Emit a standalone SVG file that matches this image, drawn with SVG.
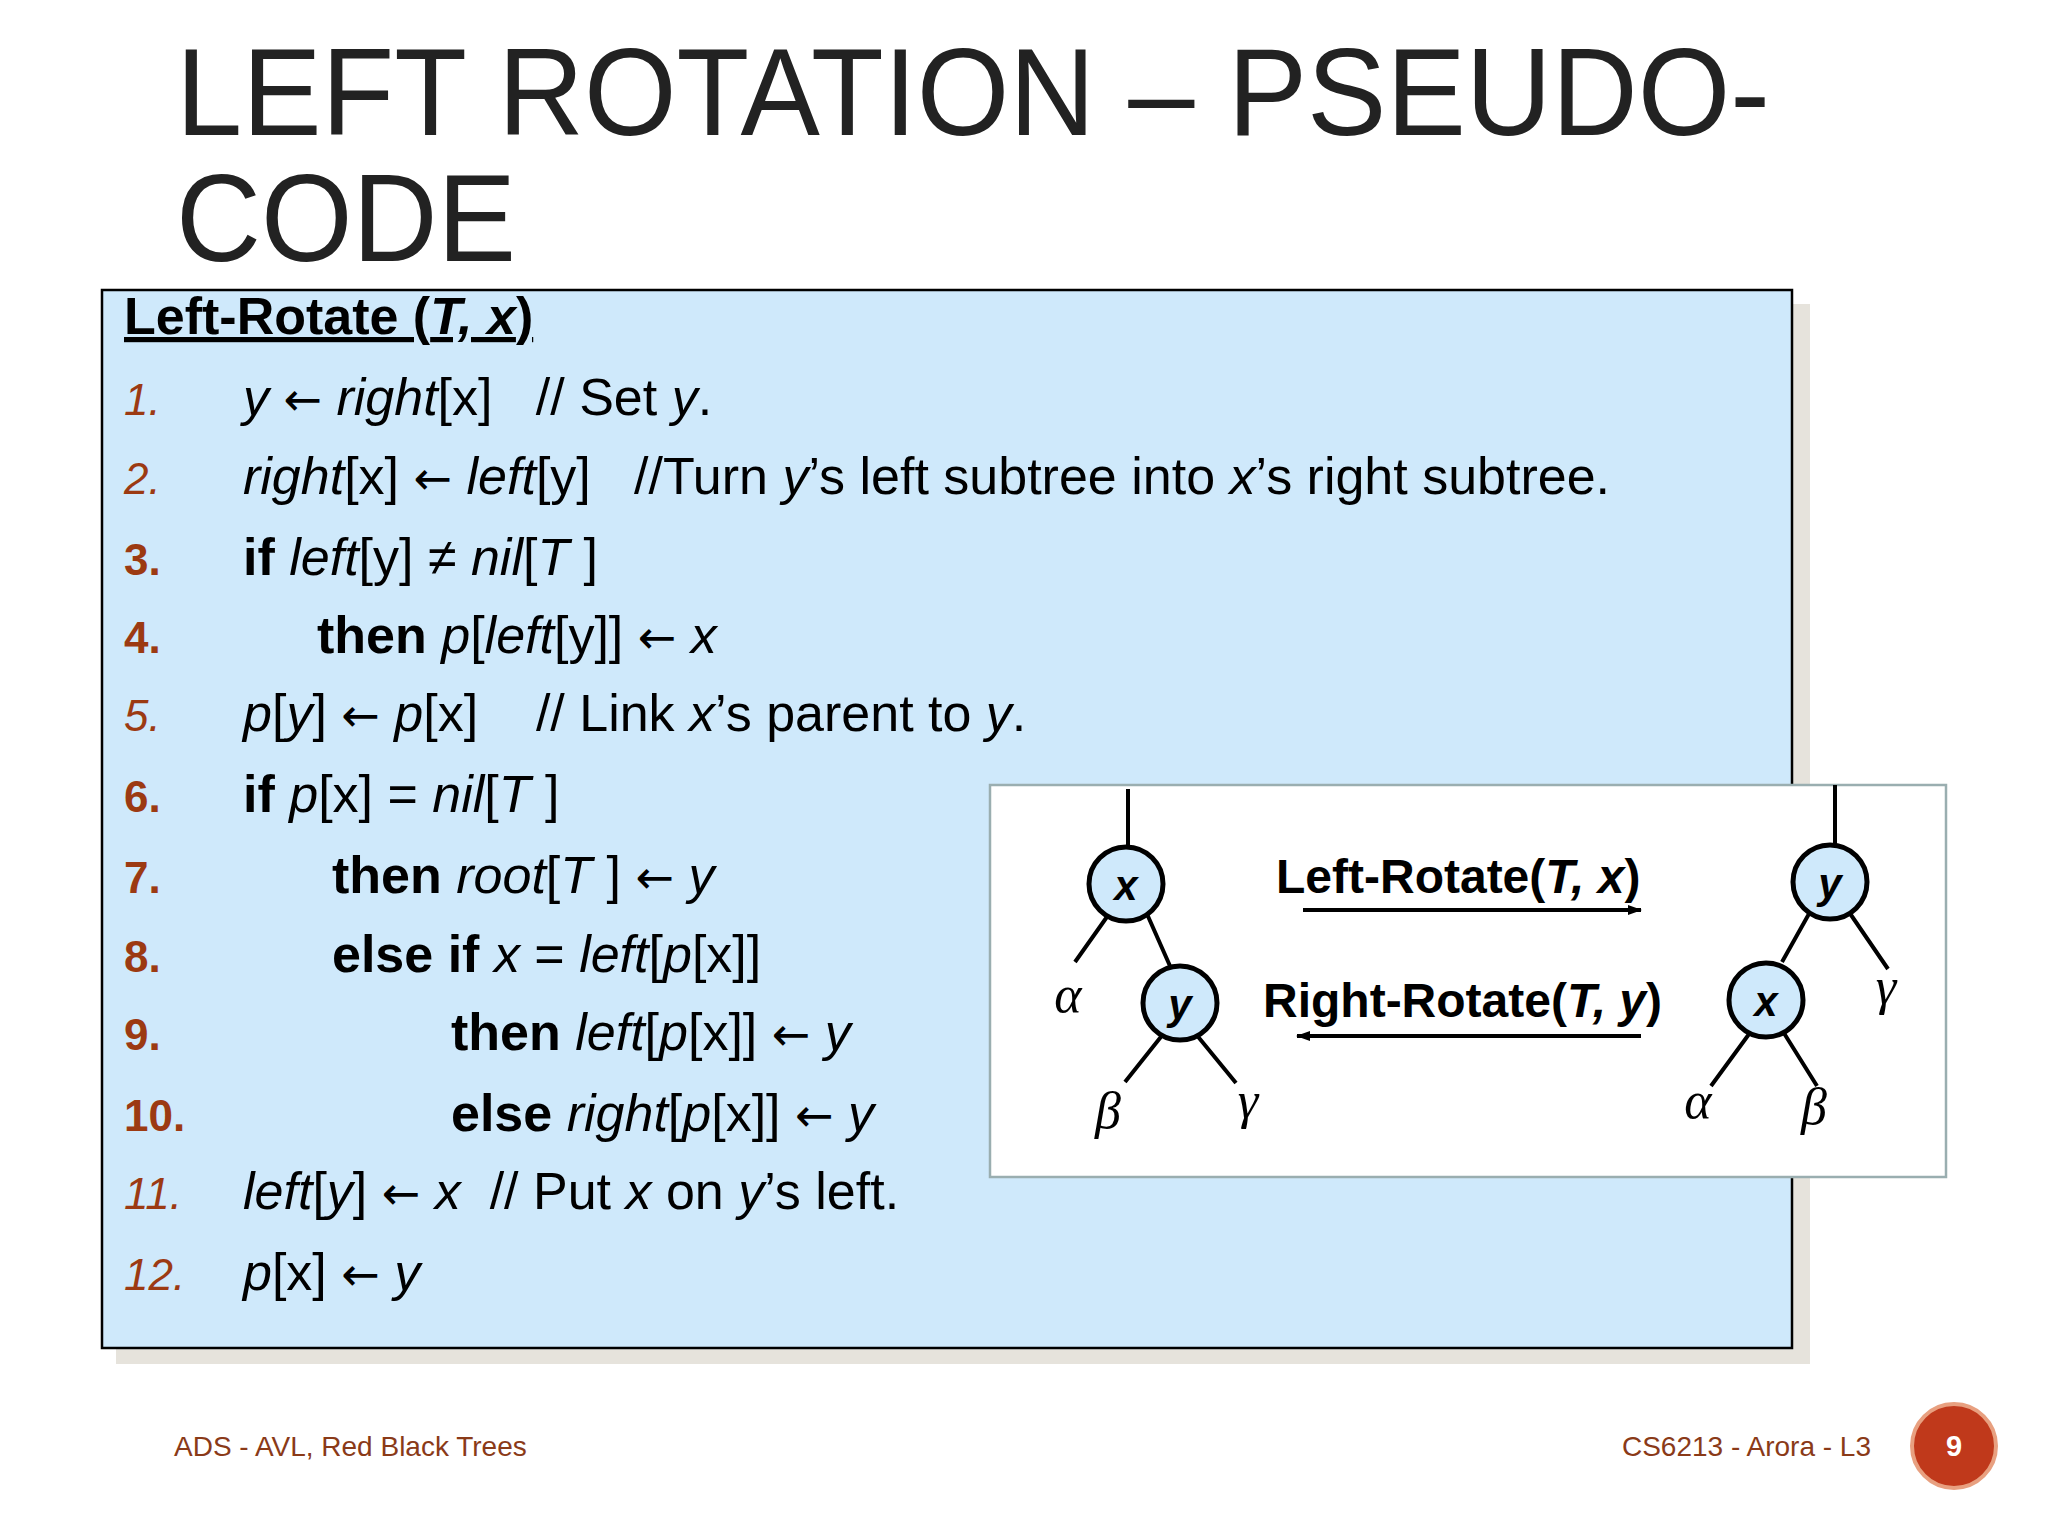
<svg xmlns="http://www.w3.org/2000/svg" width="2048" height="1536" viewBox="0 0 2048 1536">
<defs>
<style>
.t{font-family:"Liberation Sans",Arial,sans-serif}
.code{font-family:"Liberation Sans",Arial,sans-serif;font-size:52px;fill:#000;white-space:pre}
.num{font-family:"Liberation Sans",Arial,sans-serif;font-size:44px;fill:#9c3a12}
.ar{font-family:"DejaVu Sans",sans-serif;font-size:46px}
.gr{font-family:"Liberation Serif",serif;font-style:italic;font-size:52px}
.edge{stroke:#000;stroke-width:4;fill:none}
.node{fill:#cfe9fb;stroke:#000;stroke-width:5}
</style>
<marker id="ah" markerWidth="14" markerHeight="10" refX="13" refY="5" orient="auto" markerUnits="userSpaceOnUse"><path d="M0,0 L14,5 L0,10 z"/></marker>
</defs>
<rect width="2048" height="1536" fill="#fff"/>
<text class="t" x="176" y="135" font-size="124" fill="#222" textLength="1594" lengthAdjust="spacingAndGlyphs">LEFT ROTATION – PSEUDO-</text>
<text class="t" x="176" y="261" font-size="124" fill="#222" textLength="340" lengthAdjust="spacingAndGlyphs">CODE</text>
<rect x="116" y="304" width="1694" height="1060" fill="#e6e3dc"/>
<rect x="102" y="290" width="1690" height="1058" fill="#cfe9fb" stroke="#000" stroke-width="2.5"/>
<g id="code">
<text class="code" x="124" y="334" font-weight="bold" text-decoration="underline">Left-Rotate (<tspan font-style="italic">T, x</tspan>)</text>
<text class="num" x="124" y="415" font-style="italic">1.</text><text class="code" x="243" y="415"><tspan font-style="italic">y</tspan> <tspan class="ar">←</tspan> <tspan font-style="italic">right</tspan>[x]   // Set <tspan font-style="italic">y</tspan>.</text>
<text class="num" x="124" y="494" font-style="italic">2.</text><text class="code" x="243" y="494"><tspan font-style="italic">right</tspan>[x] <tspan class="ar">←</tspan> <tspan font-style="italic">left</tspan>[y]   //Turn <tspan font-style="italic">y</tspan>’s left subtree into <tspan font-style="italic">x</tspan>’s right subtree.</text>
<text class="num" x="124" y="575" font-weight="bold">3.</text><text class="code" x="243" y="575"><tspan font-weight="bold">if</tspan> <tspan font-style="italic">left</tspan>[y] ≠ <tspan font-style="italic">nil</tspan>[<tspan font-style="italic">T</tspan> ]</text>
<text class="num" x="124" y="653" font-weight="bold">4.</text><text class="code" x="317" y="653"><tspan font-weight="bold">then</tspan> <tspan font-style="italic">p</tspan>[<tspan font-style="italic">left</tspan>[y]] <tspan class="ar">←</tspan> <tspan font-style="italic">x</tspan></text>
<text class="num" x="124" y="731" font-style="italic">5.</text><text class="code" x="243" y="731"><tspan font-style="italic">p</tspan>[<tspan font-style="italic">y</tspan>] <tspan class="ar">←</tspan> <tspan font-style="italic">p</tspan>[x]    // Link <tspan font-style="italic">x</tspan>’s parent to <tspan font-style="italic">y</tspan>.</text>
<text class="num" x="124" y="812" font-weight="bold">6.</text><text class="code" x="243" y="812"><tspan font-weight="bold">if</tspan> <tspan font-style="italic">p</tspan>[x] = <tspan font-style="italic">nil</tspan>[<tspan font-style="italic">T</tspan> ]</text>
<text class="num" x="124" y="893" font-weight="bold">7.</text><text class="code" x="332" y="893"><tspan font-weight="bold">then</tspan> <tspan font-style="italic">root</tspan>[<tspan font-style="italic">T</tspan> ] <tspan class="ar">←</tspan> <tspan font-style="italic">y</tspan></text>
<text class="num" x="124" y="972" font-weight="bold">8.</text><text class="code" x="332" y="972"><tspan font-weight="bold">else if</tspan> <tspan font-style="italic">x</tspan> = <tspan font-style="italic">left</tspan>[<tspan font-style="italic">p</tspan>[x]]</text>
<text class="num" x="124" y="1050" font-weight="bold">9.</text><text class="code" x="451" y="1050"><tspan font-weight="bold">then</tspan> <tspan font-style="italic">left</tspan>[<tspan font-style="italic">p</tspan>[x]] <tspan class="ar">←</tspan> <tspan font-style="italic">y</tspan></text>
<text class="num" x="124" y="1131" font-weight="bold">10.</text><text class="code" x="451" y="1131"><tspan font-weight="bold">else</tspan> <tspan font-style="italic">right</tspan>[<tspan font-style="italic">p</tspan>[x]] <tspan class="ar">←</tspan> <tspan font-style="italic">y</tspan></text>
<text class="num" x="124" y="1209" font-style="italic">11.</text><text class="code" x="243" y="1209"><tspan font-style="italic">left</tspan>[<tspan font-style="italic">y</tspan>] <tspan class="ar">←</tspan> <tspan font-style="italic">x</tspan>  // Put <tspan font-style="italic">x</tspan> on <tspan font-style="italic">y</tspan>’s left.</text>
<text class="num" x="124" y="1290" font-style="italic">12.</text><text class="code" x="243" y="1290"><tspan font-style="italic">p</tspan>[x] <tspan class="ar">←</tspan> <tspan font-style="italic">y</tspan></text>
</g>
<rect x="990" y="785" width="956" height="392" fill="#fff" stroke="#9aaeb0" stroke-width="2.5"/>
<g id="connectors">
<path class="edge" d="M1128,789 V847 M1109,914 L1075,962 M1147,914 L1170,966 M1164,1033 L1125,1082 M1195,1033 L1236,1083"/>
<path class="edge" d="M1835,785 V845 M1810,912 L1782,962 M1849,912 L1888,969 M1752,1030 L1711,1086 M1782,1030 L1817,1086"/>
<line x1="1303" y1="910" x2="1641" y2="910" stroke="#000" stroke-width="4" marker-end="url(#ah)"/>
<line x1="1641" y1="1036" x2="1297" y2="1036" stroke="#000" stroke-width="4" marker-end="url(#ah)"/>
</g>
<g id="nx1"><circle class="node" cx="1126" cy="884" r="37"/><text class="t" x="1126" y="900" font-size="42" font-weight="bold" font-style="italic" text-anchor="middle">x</text></g>
<g id="ny1"><circle class="node" cx="1180" cy="1003" r="37"/><text class="t" x="1180" y="1019" font-size="42" font-weight="bold" font-style="italic" text-anchor="middle">y</text></g>
<g id="ny2"><circle class="node" cx="1830" cy="882" r="37"/><text class="t" x="1830" y="898" font-size="42" font-weight="bold" font-style="italic" text-anchor="middle">y</text></g>
<g id="nx2"><circle class="node" cx="1766" cy="1000" r="37"/><text class="t" x="1766" y="1016" font-size="42" font-weight="bold" font-style="italic" text-anchor="middle">x</text></g>
<g id="greek">
<text class="gr" x="1068" y="1012" text-anchor="middle">α</text>
<text class="gr" x="1108" y="1128" text-anchor="middle">β</text>
<text class="gr" x="1248" y="1118" text-anchor="middle">γ</text>
<text class="gr" x="1886" y="1004" text-anchor="middle">γ</text>
<text class="gr" x="1698" y="1118" text-anchor="middle">α</text>
<text class="gr" x="1814" y="1124" text-anchor="middle">β</text>
</g>
<text class="t" x="1276" y="893" font-size="48" font-weight="bold">Left-Rotate(<tspan font-style="italic">T, x</tspan>)</text>
<text class="t" x="1263" y="1017" font-size="48" font-weight="bold">Right-Rotate(<tspan font-style="italic">T, y</tspan>)</text>
<text class="t" x="174" y="1456" font-size="28" fill="#8a3a18">ADS - AVL, Red Black Trees</text>
<text class="t" x="1871" y="1456" font-size="28" fill="#8a3a18" text-anchor="end">CS6213 - Arora - L3</text>
<circle cx="1954" cy="1446" r="42" fill="#c0391b" stroke="#e8a080" stroke-width="4"/>
<text class="t" x="1954" y="1456" font-size="29" font-weight="bold" fill="#fff" text-anchor="middle">9</text>
</svg>
